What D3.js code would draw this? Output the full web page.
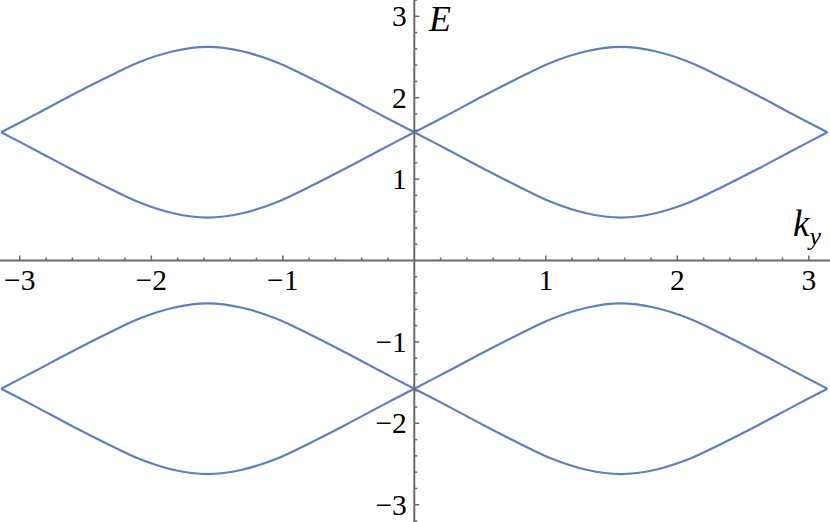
<!DOCTYPE html>
<html>
<head>
<meta charset="utf-8">
<script src="https://cdn.jsdelivr.net/npm/d3@7"></script>
<style>
  html, body { margin: 0; padding: 0; background: #fff; }
  svg { display: block; }
</style>
</head>
<body>
<div id="chart"></div>
<script>
// k_y samples (-pi .. pi)
const kValues = [-3.142, -2.880, -2.618, -2.356, -2.094, -1.833, -1.571, -1.309, -1.047, -0.785, -0.524, -0.262,
  0, 0.262, 0.524, 0.785, 1.047, 1.309, 1.571, 1.833, 2.094, 2.356, 2.618, 2.880, 3.142];

// energy bands
const band1Top = [1.575, 1.795, 2.02, 2.235, 2.435, 2.57, 2.623, 2.57, 2.435, 2.235, 2.02, 1.795,
  1.575, 1.795, 2.02, 2.235, 2.435, 2.57, 2.623, 2.57, 2.435, 2.235, 2.02, 1.795, 1.575];
const band1Bot = [1.575, 1.355, 1.13, 0.915, 0.715, 0.58, 0.527, 0.58, 0.715, 0.915, 1.13, 1.355,
  1.575, 1.355, 1.13, 0.915, 0.715, 0.58, 0.527, 0.58, 0.715, 0.915, 1.13, 1.355, 1.575];
const band2Top = [-1.575, -1.355, -1.13, -0.915, -0.715, -0.58, -0.527, -0.58, -0.715, -0.915, -1.13, -1.355,
  -1.575, -1.355, -1.13, -0.915, -0.715, -0.58, -0.527, -0.58, -0.715, -0.915, -1.13, -1.355, -1.575];
const band2Bot = [-1.575, -1.795, -2.02, -2.235, -2.435, -2.57, -2.623, -2.57, -2.435, -2.235, -2.02, -1.795,
  -1.575, -1.795, -2.02, -2.235, -2.435, -2.57, -2.623, -2.57, -2.435, -2.235, -2.02, -1.795, -1.575];

const xTicks = [-3, -2, -1, 1, 2, 3];
const yTicks = [-3, -2, -1, 1, 2, 3];

const width = 830;
const height = 522;
const lineColor = "#5e81b5";
const axisColor = "#6b6b6b";
const serif = "'Liberation Serif', 'Times New Roman', serif";

const x = d3.scaleLinear().domain([-Math.PI, Math.PI]).range([1.2, 827.4]);
const y = d3.scaleLinear().domain([-3.2, 3.2]).range([521, 0]);

const svg = d3.select("#chart").append("svg")
  .attr("width", width)
  .attr("height", height);

// curves: split at k = 0 so the crossing stays sharp
const line = d3.line()
  .x(d => x(d[0]))
  .y(d => y(d[1]))
  .curve(d3.curveCatmullRom);

const mid = kValues.indexOf(0);
[band1Top, band1Bot, band2Top, band2Bot].forEach(s => {
  const pts = kValues.map((k, i) => [k, s[i]]);
  [pts.slice(0, mid + 1), pts.slice(mid)].forEach(seg => {
    svg.append("path")
      .attr("d", line(seg))
      .attr("fill", "none")
      .attr("stroke", lineColor)
      .attr("stroke-width", 2.2);
  });
});

// axes
const x0 = x(0), y0 = y(0);
const axes = svg.append("g");

axes.append("line")
  .attr("x1", 0).attr("x2", width)
  .attr("y1", y0).attr("y2", y0)
  .attr("stroke", axisColor).attr("stroke-width", 2);

axes.append("line")
  .attr("x1", x0).attr("x2", x0)
  .attr("y1", 0).attr("y2", height)
  .attr("stroke", axisColor).attr("stroke-width", 2);

// minor + major ticks every 0.2
const xMinor = d3.range(-16, 17).map(i => i / 5).filter(v => v !== 0);
axes.selectAll("line.xt")
  .data(xMinor)
  .enter().append("line")
  .attr("class", "xt")
  .attr("x1", d => x(d)).attr("x2", d => x(d))
  .attr("y1", y0)
  .attr("y2", d => y0 - (Math.abs(d - Math.round(d)) < 1e-6 ? 5 : 3))
  .attr("stroke", axisColor).attr("stroke-width", 1.5);

const yMinor = d3.range(-16, 17).map(i => i / 5).filter(v => v !== 0);
axes.selectAll("line.yt")
  .data(yMinor)
  .enter().append("line")
  .attr("class", "yt")
  .attr("y1", d => y(d)).attr("y2", d => y(d))
  .attr("x1", x0)
  .attr("x2", d => x0 + (Math.abs(d - Math.round(d)) < 1e-6 ? 5 : 3))
  .attr("stroke", axisColor).attr("stroke-width", 1.5);

const fmt = d => (d < 0 ? "\u2212" : "") + Math.abs(d);

axes.selectAll("text.xl")
  .data(xTicks)
  .enter().append("text")
  .attr("class", "xl")
  .attr("x", d => x(d))
  .attr("y", y0 + 29.5)
  .attr("text-anchor", "middle")
  .style("font-family", serif)
  .style("font-size", "29.5px")
  .text(fmt);

axes.selectAll("text.yl")
  .data(yTicks)
  .enter().append("text")
  .attr("class", "yl")
  .attr("x", x0 - 7.5)
  .attr("y", d => y(d) + 10)
  .attr("text-anchor", "end")
  .style("font-family", serif)
  .style("font-size", "29.5px")
  .text(fmt);

// axis labels
svg.append("text")
  .attr("x", 429)
  .attr("y", 31)
  .style("font-family", serif)
  .style("font-style", "italic")
  .style("font-size", "36px")
  .text("E");

const ky = svg.append("text")
  .attr("x", 793)
  .attr("y", 236)
  .style("font-family", serif)
  .style("font-style", "italic")
  .style("font-size", "37px");
ky.append("tspan").text("k");
ky.append("tspan")
  .attr("dy", 9)
  .style("font-size", "26px")
  .text("y");
</script>
</body>
</html>
